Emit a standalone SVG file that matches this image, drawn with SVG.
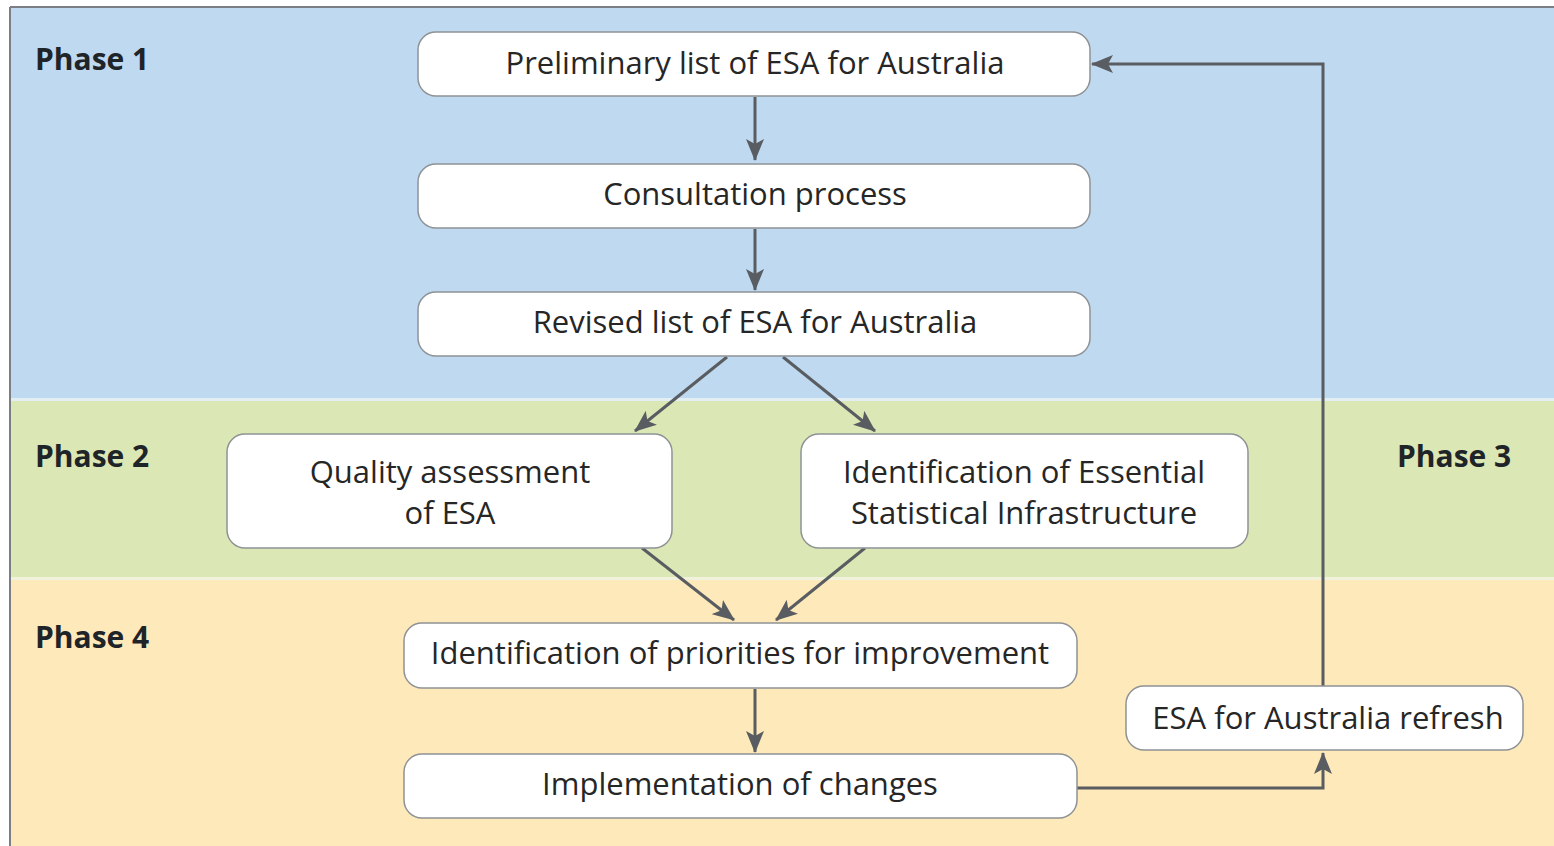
<svg xmlns="http://www.w3.org/2000/svg" width="1554" height="846" viewBox="0 0 1554 846">
<style>
.node rect{fill:#fff;stroke:#8f9295;stroke-width:1.5}
.node text{font-family:"Open Sans","Noto Sans",sans-serif;font-size:31px;fill:#262626;text-anchor:middle}
.phase{font-family:"Open Sans","Noto Sans",sans-serif;font-size:30px;font-weight:bold;fill:#1f2428}
.conn{fill:none;stroke:#595d61;stroke-width:3}
</style>
<defs>
<marker id="ah" viewBox="0 0 22 18" refX="21" refY="9" markerWidth="22" markerHeight="18" markerUnits="userSpaceOnUse" orient="auto">
<path d="M0,0 L22,9 L0,18 L5,9 Z" fill="#595d61"/>
</marker>
</defs>
<rect x="0" y="0" width="1554" height="846" fill="#fff"/>
<rect x="10" y="7" width="1544" height="391" fill="#bed9f0"/>
<rect x="10" y="398" width="1544" height="3" fill="#e3eef3"/>
<rect x="10" y="401" width="1544" height="176" fill="#dbe8b5"/>
<rect x="10" y="577" width="1544" height="3" fill="#f1f2dc"/>
<rect x="10" y="580" width="1544" height="266" fill="#fde9b9"/>
<line x1="10" y1="7" x2="1554" y2="7" stroke="#7b7f83" stroke-width="2"/>
<line x1="10" y1="7" x2="10" y2="846" stroke="#7b7f83" stroke-width="2"/>
<text class="phase" x="35" y="70">Phase 1</text>
<text class="phase" x="35" y="467">Phase 2</text>
<text class="phase" x="1397" y="467">Phase 3</text>
<text class="phase" x="35" y="648">Phase 4</text>
<g id="connectors">
<line class="conn" x1="755" y1="97" x2="755" y2="160" marker-end="url(#ah)"/>
<line class="conn" x1="755" y1="229" x2="755" y2="290" marker-end="url(#ah)"/>
<line class="conn" x1="727" y1="357" x2="635" y2="431" marker-end="url(#ah)"/>
<line class="conn" x1="783" y1="357" x2="875" y2="431" marker-end="url(#ah)"/>
<line class="conn" x1="642" y1="548" x2="734" y2="620" marker-end="url(#ah)"/>
<line class="conn" x1="865" y1="548" x2="776" y2="620" marker-end="url(#ah)"/>
<line class="conn" x1="755" y1="689" x2="755" y2="752" marker-end="url(#ah)"/>
<polyline class="conn" points="1077,788 1323,788 1323,753" marker-end="url(#ah)"/>
<polyline class="conn" points="1323,686 1323,64 1092,64" marker-end="url(#ah)"/>
</g>
<g id="n1" class="node"><rect x="418" y="32" width="672" height="64" rx="18"/><text x="755" y="74">Preliminary list of ESA for Australia</text></g>
<g id="n2" class="node"><rect x="418" y="164" width="672" height="64" rx="18"/><text x="755" y="205">Consultation process</text></g>
<g id="n3" class="node"><rect x="418" y="292" width="672" height="64" rx="18"/><text x="755" y="333">Revised list of ESA for Australia</text></g>
<g id="n4" class="node"><rect x="227" y="434" width="445" height="114" rx="18"/><text x="450" y="483">Quality assessment</text><text x="450" y="524">of ESA</text></g>
<g id="n5" class="node"><rect x="801" y="434" width="447" height="114" rx="18"/><text x="1024" y="483">Identification of Essential</text><text x="1024" y="524">Statistical Infrastructure</text></g>
<g id="n6" class="node"><rect x="404" y="623" width="673" height="65" rx="18"/><text x="740" y="664">Identification of priorities for improvement</text></g>
<g id="n7" class="node"><rect x="404" y="754" width="673" height="64" rx="18"/><text x="740" y="795">Implementation of changes</text></g>
<g id="n8" class="node"><rect x="1126" y="686" width="397" height="64" rx="18"/><text x="1328" y="729">ESA for Australia refresh</text></g>
</svg>
